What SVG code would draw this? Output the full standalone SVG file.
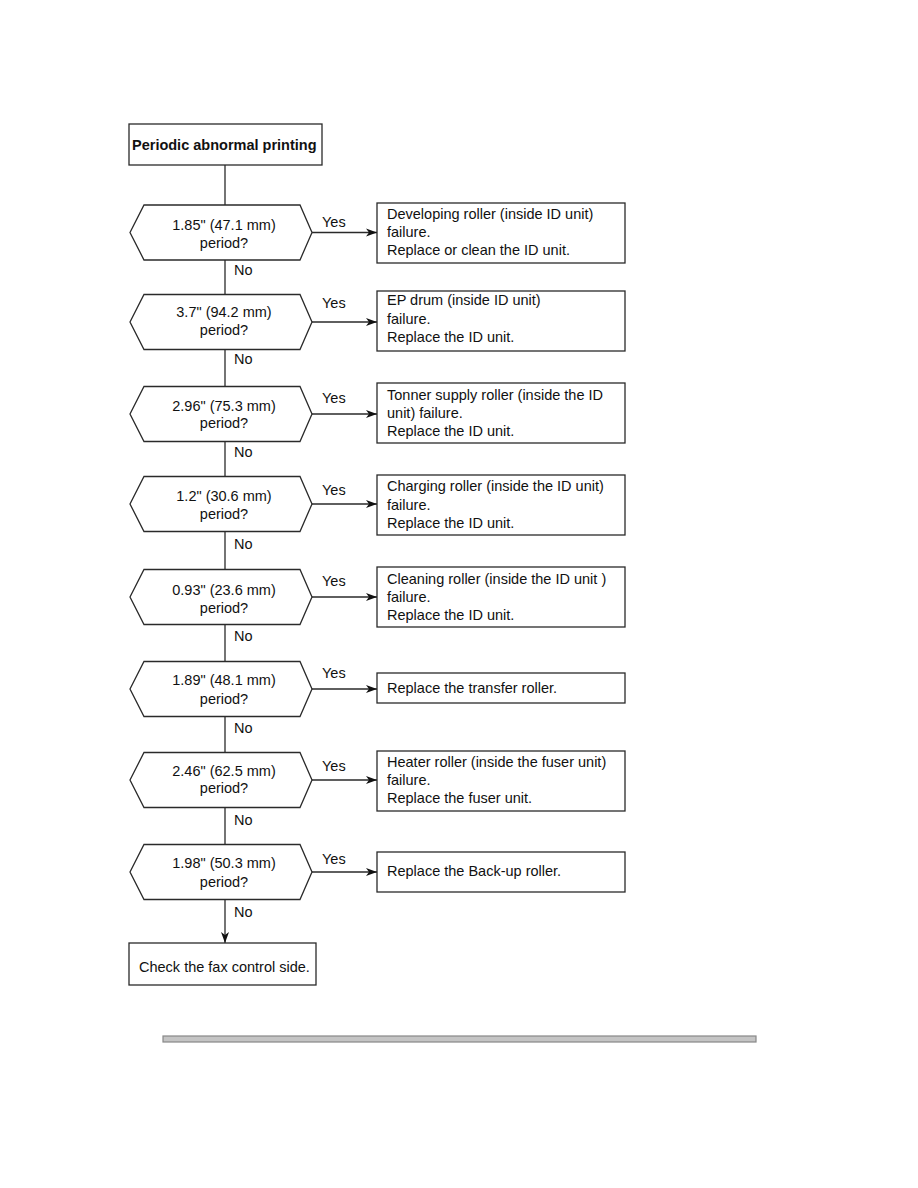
<svg xmlns="http://www.w3.org/2000/svg" width="918" height="1188" viewBox="0 0 918 1188">
<style>
.shape{fill:#fff;stroke:#2a2a2a;stroke-width:1.3}
.t{font-family:"Liberation Sans",Arial,sans-serif;font-size:14.5px;fill:#111}
.c{text-anchor:middle}
.b{font-weight:bold}
.ln{stroke:#2a2a2a;stroke-width:1.3;fill:none}
</style>
<defs>
<marker id="ah" markerWidth="12" markerHeight="10" refX="11" refY="5" orient="auto" markerUnits="userSpaceOnUse">
<path d="M0,1 L11,5 L0,9 L3,5 Z" fill="#111"/>
</marker>
</defs>
<rect width="918" height="1188" fill="#fff"/>
<g id="connectors">
<line class="ln" x1="225" y1="165" x2="225" y2="205"/>
<line class="ln" x1="225" y1="260" x2="225" y2="294.5"/>
<line class="ln" x1="225" y1="349.5" x2="225" y2="386.5"/>
<line class="ln" x1="225" y1="441.5" x2="225" y2="476.5"/>
<line class="ln" x1="225" y1="531.5" x2="225" y2="569.5"/>
<line class="ln" x1="225" y1="624.5" x2="225" y2="661.5"/>
<line class="ln" x1="225" y1="716.5" x2="225" y2="752.5"/>
<line class="ln" x1="225" y1="807.5" x2="225" y2="844.5"/>
<line class="ln" x1="225" y1="899.5" x2="225" y2="943" marker-end="url(#ah)"/>
<line class="ln" x1="312" y1="232.5" x2="377" y2="232.5" marker-end="url(#ah)"/>
<line class="ln" x1="312" y1="322" x2="377" y2="322" marker-end="url(#ah)"/>
<line class="ln" x1="312" y1="414" x2="377" y2="414" marker-end="url(#ah)"/>
<line class="ln" x1="312" y1="504" x2="377" y2="504" marker-end="url(#ah)"/>
<line class="ln" x1="312" y1="597" x2="377" y2="597" marker-end="url(#ah)"/>
<line class="ln" x1="312" y1="689" x2="377" y2="689" marker-end="url(#ah)"/>
<line class="ln" x1="312" y1="780" x2="377" y2="780" marker-end="url(#ah)"/>
<line class="ln" x1="312" y1="872" x2="377" y2="872" marker-end="url(#ah)"/>
<text class="t" x="322" y="227">Yes</text>
<text class="t" x="322" y="308">Yes</text>
<text class="t" x="322" y="403">Yes</text>
<text class="t" x="322" y="495">Yes</text>
<text class="t" x="322" y="586">Yes</text>
<text class="t" x="322" y="678">Yes</text>
<text class="t" x="322" y="771">Yes</text>
<text class="t" x="322" y="864">Yes</text>
<text class="t" x="234" y="275">No</text>
<text class="t" x="234" y="364">No</text>
<text class="t" x="234" y="457">No</text>
<text class="t" x="234" y="549">No</text>
<text class="t" x="234" y="641">No</text>
<text class="t" x="234" y="733">No</text>
<text class="t" x="234" y="825">No</text>
<text class="t" x="234" y="917">No</text>
</g>
<g id="start">
<rect class="shape" x="129" y="124" width="193" height="41"/>
<text class="t b" x="132" y="150">Periodic abnormal printing</text>
</g>
<g id="q1">
<polygon class="shape" points="130,232.5 144,205 300,205 312,232.5 300,260 144,260"/>
<text class="t c" x="224" y="230">1.85" (47.1 mm)</text>
<text class="t c" x="224" y="248">period?</text>
</g>
<g id="a1">
<rect class="shape" x="377" y="203" width="248" height="60"/>
<text class="t" x="387" y="219">Developing roller (inside ID unit)</text>
<text class="t" x="387" y="237">failure.</text>
<text class="t" x="387" y="255">Replace or clean the ID unit.</text>
</g>
<g id="q2">
<polygon class="shape" points="130,322 144,294.5 300,294.5 312,322 300,349.5 144,349.5"/>
<text class="t c" x="224" y="317">3.7" (94.2 mm)</text>
<text class="t c" x="224" y="335">period?</text>
</g>
<g id="a2">
<rect class="shape" x="377" y="291" width="248" height="60"/>
<text class="t" x="387" y="305">EP drum (inside ID unit)</text>
<text class="t" x="387" y="324">failure.</text>
<text class="t" x="387" y="342">Replace the ID unit.</text>
</g>
<g id="q3">
<polygon class="shape" points="130,414 144,386.5 300,386.5 312,414 300,441.5 144,441.5"/>
<text class="t c" x="224" y="411">2.96" (75.3 mm)</text>
<text class="t c" x="224" y="428">period?</text>
</g>
<g id="a3">
<rect class="shape" x="377" y="383" width="248" height="60"/>
<text class="t" x="387" y="400">Tonner supply roller (inside the ID</text>
<text class="t" x="387" y="418">unit) failure.</text>
<text class="t" x="387" y="436">Replace the ID unit.</text>
</g>
<g id="q4">
<polygon class="shape" points="130,504 144,476.5 300,476.5 312,504 300,531.5 144,531.5"/>
<text class="t c" x="224" y="501">1.2" (30.6 mm)</text>
<text class="t c" x="224" y="519">period?</text>
</g>
<g id="a4">
<rect class="shape" x="377" y="475" width="248" height="60"/>
<text class="t" x="387" y="491">Charging roller (inside the ID unit)</text>
<text class="t" x="387" y="510">failure.</text>
<text class="t" x="387" y="528">Replace the ID unit.</text>
</g>
<g id="q5">
<polygon class="shape" points="130,597 144,569.5 300,569.5 312,597 300,624.5 144,624.5"/>
<text class="t c" x="224" y="595">0.93" (23.6 mm)</text>
<text class="t c" x="224" y="613">period?</text>
</g>
<g id="a5">
<rect class="shape" x="377" y="567" width="248" height="60"/>
<text class="t" x="387" y="584">Cleaning roller (inside the ID unit )</text>
<text class="t" x="387" y="602">failure.</text>
<text class="t" x="387" y="620">Replace the ID unit.</text>
</g>
<g id="q6">
<polygon class="shape" points="130,689 144,661.5 300,661.5 312,689 300,716.5 144,716.5"/>
<text class="t c" x="224" y="685">1.89" (48.1 mm)</text>
<text class="t c" x="224" y="704">period?</text>
</g>
<g id="a6">
<rect class="shape" x="377" y="673" width="248" height="30"/>
<text class="t" x="387" y="693">Replace the transfer roller.</text>
</g>
<g id="q7">
<polygon class="shape" points="130,780 144,752.5 300,752.5 312,780 300,807.5 144,807.5"/>
<text class="t c" x="224" y="776">2.46" (62.5 mm)</text>
<text class="t c" x="224" y="793">period?</text>
</g>
<g id="a7">
<rect class="shape" x="377" y="751" width="248" height="60"/>
<text class="t" x="387" y="767">Heater roller (inside the fuser unit)</text>
<text class="t" x="387" y="785">failure.</text>
<text class="t" x="387" y="803">Replace the fuser unit.</text>
</g>
<g id="q8">
<polygon class="shape" points="130,872 144,844.5 300,844.5 312,872 300,899.5 144,899.5"/>
<text class="t c" x="224" y="868">1.98" (50.3 mm)</text>
<text class="t c" x="224" y="887">period?</text>
</g>
<g id="a8">
<rect class="shape" x="377" y="852" width="248" height="40"/>
<text class="t" x="387" y="876">Replace the Back-up roller.</text>
</g>
<g id="end">
<rect class="shape" x="129" y="943" width="187" height="42"/>
<text class="t" x="139" y="972">Check the fax control side.</text>
</g>
<rect x="163" y="1036" width="593" height="6" fill="#c4c4c4" stroke="#888" stroke-width="1.2"/>
</svg>
